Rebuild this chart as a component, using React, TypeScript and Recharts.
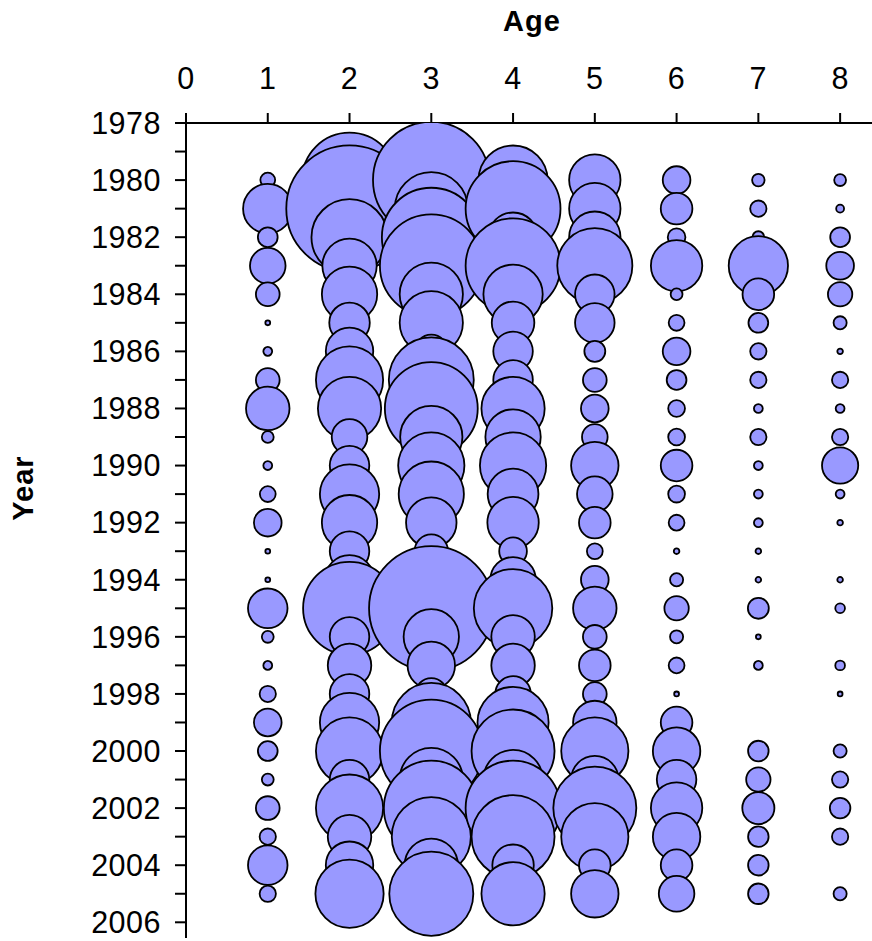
import { ScatterChart, Scatter, XAxis, YAxis, ZAxis } from "recharts"

// Year classes and ages
const years = [
  1980, 1981, 1982, 1983, 1984, 1985, 1986, 1987, 1988, 1989, 1990, 1991, 1992,
  1993, 1994, 1995, 1996, 1997, 1998, 1999, 2000, 2001, 2002, 2003, 2004, 2005,
]
const ages = [1, 2, 3, 4, 5, 6, 7, 8]

// Abundance by age (one value per year, null = none)
const age1 = [1.4, 15.6, 2.5, 8.1, 3.6, 0.15, 0.5, 3.6, 12.1, 0.9, 0.5, 1.6, 4.9, 0.15, 0.15, 10.0, 0.9, 0.5, 1.7, 4.9, 2.5, 0.9, 3.6, 1.7, 10.0, 1.7]
const age2 = [57.6, 102.4, 37.1, 18.9, 19.6, 10.5, 14.4, 28.9, 25.6, 8.1, 10.0, 22.5, 19.6, 10.0, 15.6, 55.2, 10.0, 12.1, 10.0, 22.5, 28.9, 10.0, 28.9, 12.1, 14.4, 29.8]
const age3 = [87.0, 34.2, 62.5, 67.6, 25.6, 25.6, 7.2, 46.2, 55.2, 24.8, 28.1, 27.2, 16.3, 7.2, 12.1, 99.2, 19.6, 14.4, 6.4, 40.0, 67.6, 25.6, 57.6, 40.0, 18.2, 45.2]
const age4 = [30.6, 57.6, 15.6, 57.6, 22.5, 11.6, 10.0, 10.0, 25.6, 19.6, 28.1, 16.5, 16.9, 4.9, 13.2, 39.4, 12.1, 12.1, 8.1, 32.4, 44.1, 22.5, 57.6, 44.1, 11.0, 25.6]
const age5 = [16.9, 16.9, 16.9, 36.1, 10.0, 10.0, 2.8, 3.6, 4.9, 4.2, 14.4, 8.1, 6.4, 1.6, 4.9, 12.1, 3.6, 6.4, 3.6, 12.1, 28.9, 14.4, 44.1, 28.9, 6.4, 14.4]
const age6 = [4.9, 6.4, 2.0, 16.9, 0.9, 1.6, 4.9, 2.5, 1.8, 1.8, 6.4, 1.8, 1.6, 0.2, 1.1, 3.8, 1.1, 1.6, 0.15, 6.4, 14.4, 10.0, 16.9, 14.4, 6.4, 8.1]
const age7 = [1.0, 1.7, 0.9, 22.5, 6.4, 2.5, 1.7, 1.7, 0.5, 1.7, 0.5, 0.5, 0.5, 0.2, 0.2, 2.8, 0.15, 0.5, null, null, 2.7, 3.8, 6.6, 2.7, 2.7, 2.7]
const age8 = [0.9, 0.4, 2.5, 4.9, 3.8, 1.1, 0.2, 1.7, 0.5, 1.7, 8.4, 0.5, 0.2, null, 0.2, 0.6, null, 0.6, 0.15, null, 1.1, 1.7, 2.7, 1.7, null, 1.1]

const xTicks = [0, 1, 2, 3, 4, 5, 6, 7, 8]
const yTicks = Array.from({ length: 29 }, (_, i) => 1978 + i)

const byAge = [age1, age2, age3, age4, age5, age6, age7, age8]
const series = ages.map((age, i) =>
  byAge[i]
    .map((value, j) => ({ age, year: years[j], value }))
    .filter((d) => d.value != null)
)

const font = "'Liberation Sans', Arial, sans-serif"
const tickStyle = { fill: "#000", fontSize: 30.5, fontFamily: font, letterSpacing: 0.5 }

export default function App() {
  return (
    <div
      style={{
        position: "fixed",
        left: 0,
        top: 0,
        width: 872,
        height: 941,
        overflow: "hidden",
        background: "#fff",
      }}
    >
      <ScatterChart width={890} height={941} margin={{ top: 0, right: 9, bottom: 3, left: 0 }}>
        <XAxis
          type="number"
          dataKey="age"
          orientation="top"
          domain={[0, 8.5]}
          ticks={xTicks}
          height={123}
          tickSize={10}
          tickMargin={24}
          tick={tickStyle}
          axisLine={{ stroke: "#000", strokeWidth: 2 }}
          tickLine={{ stroke: "#000", strokeWidth: 2 }}
          allowDataOverflow
        />
        <YAxis
          type="number"
          dataKey="year"
          reversed
          domain={[1978, 2006.55]}
          ticks={yTicks}
          interval={0}
          width={186}
          tickSize={11}
          tickMargin={14}
          tick={tickStyle}
          tickFormatter={(v) => (v % 2 === 0 ? String(v) : "")}
          axisLine={{ stroke: "#000", strokeWidth: 2 }}
          tickLine={{ stroke: "#000", strokeWidth: 2 }}
          allowDataOverflow
        />
        <ZAxis type="number" dataKey="value" domain={[0, 100]} range={[0, 4000 * Math.PI]} />
        {series.map((d, i) => (
          <Scatter
            key={ages[i]}
            data={d}
            fill="#9999FF"
            stroke="#000"
            strokeWidth={1.8}
            isAnimationActive={false}
          />
        ))}
      </ScatterChart>
      <div
        style={{
          position: "absolute",
          left: 432,
          width: 200,
          top: 5,
          textAlign: "center",
          fontFamily: font,
          fontWeight: "bold",
          fontSize: 29,
          letterSpacing: 1,
        }}
      >
        Age
      </div>
      <div
        style={{
          position: "absolute",
          left: 23,
          top: 488,
          transform: "translate(-50%, -50%) rotate(-90deg)",
          fontFamily: font,
          fontWeight: "bold",
          fontSize: 29,
          letterSpacing: 1,
          whiteSpace: "nowrap",
        }}
      >
        Year
      </div>
    </div>
  )
}
